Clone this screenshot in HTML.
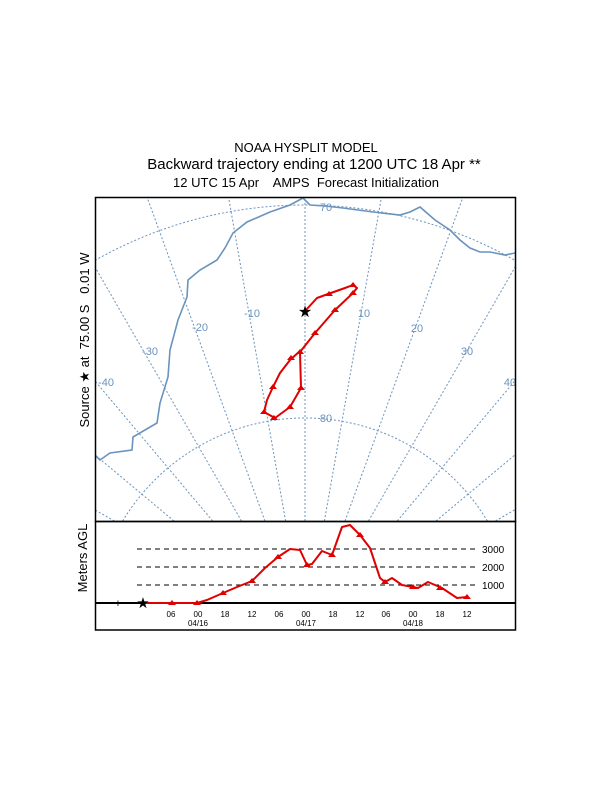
<!DOCTYPE html>
<html><head><meta charset="utf-8"><style>
html,body{margin:0;padding:0;background:#fff;width:612px;height:792px;overflow:hidden;}
svg{display:block;font-family:"Liberation Sans",Arial,sans-serif;}
</style></head><body>
<svg width="612" height="792" viewBox="0 0 612 792" xmlns="http://www.w3.org/2000/svg">
<text x="306" y="152" font-size="13" text-anchor="middle">NOAA HYSPLIT MODEL</text>
<text x="314" y="169" font-size="15" text-anchor="middle">Backward trajectory ending at 1200 UTC 18 Apr **</text>
<text x="306" y="187" font-size="13" text-anchor="middle">12 UTC 15 Apr &#160;&#160; AMPS &#160;Forecast Initialization</text>

<g stroke="#6a93bd" stroke-width="1" stroke-dasharray="2,2" fill="none">
<path d="M305,521 L305,197"/>
<path d="M324.4,521 L381.5,197"/>
<path d="M345,521 L463,197"/>
<path d="M368.5,521 L516,265.5"/>
<path d="M397.3,521 L516,379.5"/>
<path d="M436,521 L516,454"/>
<path d="M495.5,521 L516,509"/>
<path d="M285.6,521 L228.5,197"/>
<path d="M265,521 L147,197"/>
<path d="M241.5,521 L95,267"/>
<path d="M212.7,521 L95,381"/>
<path d="M174,521 L95,455"/>
<path d="M114.5,521 L95,510"/>
<path d="M122.6,521 A213,213 0 0 1 487.4,521"/>
<path d="M95,260.4 A426,426 0 0 1 516,260.9"/>
</g>
<g stroke="#6a93bd" stroke-width="1.6" fill="none">
<polyline points="303,198 290,205 270,212 247,222 233,233 225,248 217,260 200,270 188,280 187,297 178,320 170,350 168,377 160,403 157,423 133,437 132,450 110,453 100,460 96,456"/>
<polyline points="303,198 310,205 325,206 343,208 373,212 400,215 410,212 420,207 435,220 450,230 460,240 470,248 480,252 490,252 505,255 515,253"/>
</g>
<g fill="#6a93bd" font-size="11">
<text x="326" y="211" text-anchor="middle">70</text>
<text x="326" y="422" text-anchor="middle">80</text>
<text x="252" y="317" text-anchor="middle">-10</text>
<text x="364" y="317" text-anchor="middle">10</text>
<text x="200" y="331" text-anchor="middle">-20</text>
<text x="417" y="332" text-anchor="middle">20</text>
<text x="150" y="355" text-anchor="middle">-30</text>
<text x="467" y="355" text-anchor="middle">30</text>
<text x="106" y="386" text-anchor="middle">-40</text>
<text x="510" y="386" text-anchor="middle">40</text>
</g>
<polyline fill="none" stroke="#e00000" stroke-width="2" stroke-linejoin="round" points="306,310 317,298 328,294 345,288 353,285 357,288 353,293 335,310 315,333 300,352 301,388 290,407 275,418 264,412 267,400 273,387 280,373 290,360 300,351"/>
<g fill="#e00000">
<path d="M329,291 l4,5 h-8z"/><path d="M353,282 l4,5 h-8z"/><path d="M353,290 l4,5 h-8z"/><path d="M335,307 l4,5 h-8z"/><path d="M315,330 l4,5 h-8z"/><path d="M300,349 l4,5 h-8z"/><path d="M301,385 l4,5 h-8z"/><path d="M290,404 l4,5 h-8z"/><path d="M274,415 l4,5 h-8z"/><path d="M264,409 l4,5 h-8z"/><path d="M273,384 l4,5 h-8z"/><path d="M291,355 l4,5 h-8z"/>
</g>
<text x="305" y="317" font-size="16" text-anchor="middle">★</text>
<rect x="95.5" y="197.5" width="420" height="324" fill="none" stroke="#000" stroke-width="1.5"/>
<text transform="translate(89,340) rotate(-90)" font-size="13" text-anchor="middle">Source ★ at &#160;75.00 S &#160; 0.01 W</text>

<rect x="95.5" y="521.5" width="420" height="108.5" fill="none" stroke="#000" stroke-width="1.5"/>
<g stroke="#000" stroke-width="1" stroke-dasharray="5,4">
<line x1="137" y1="549" x2="475" y2="549"/><line x1="137" y1="567" x2="475" y2="567"/><line x1="137" y1="585" x2="475" y2="585"/>
</g>
<g font-size="10"><text x="482" y="553">3000</text><text x="482" y="571">2000</text><text x="482" y="589">1000</text></g>
<line x1="95" y1="603" x2="516" y2="603" stroke="#000" stroke-width="2"/>
<polyline fill="none" stroke="#e00000" stroke-width="2" stroke-linejoin="round" points="143,603 172,603 197,603 207,600 223,593 237,587 252,581 265,568 278,557 290,549 300,550 307,565 312,564 322,551 332,555 342,527 350,525 360,535 370,548 380,578 385,582 392,578 402,585 413,587 418,588 428,582 442,588 457,598 467,597"/>
<g fill="#e00000">
<path d="M172,600 l4,5 h-8z"/><path d="M197,600 l4,5 h-8z"/><path d="M223,590 l4,5 h-8z"/><path d="M252,578 l4,5 h-8z"/><path d="M278,554 l4,5 h-8z"/><path d="M307,562 l4,5 h-8z"/><path d="M332,552 l4,5 h-8z"/><path d="M360,532 l4,5 h-8z"/><path d="M385,579 l4,5 h-8z"/><path d="M413,584 l4,5 h-8z"/><path d="M440,585 l4,5 h-8z"/><path d="M467,594 l4,5 h-8z"/>
</g>
<text x="118" y="607" font-size="11" text-anchor="middle">+</text>
<text x="143" y="608" font-size="15" text-anchor="middle">★</text>
<g font-size="8" text-anchor="middle">
<text x="171" y="617">06</text><text x="198" y="617">00</text><text x="225" y="617">18</text><text x="252" y="617">12</text>
<text x="279" y="617">06</text><text x="306" y="617">00</text><text x="333" y="617">18</text><text x="360" y="617">12</text>
<text x="386" y="617">06</text><text x="413" y="617">00</text><text x="440" y="617">18</text><text x="467" y="617">12</text>
<text x="198" y="626">04/16</text><text x="306" y="626">04/17</text><text x="413" y="626">04/18</text>
</g>
<text transform="translate(87,558) rotate(-90)" font-size="13" text-anchor="middle">Meters AGL</text>
</svg>
</body></html>
